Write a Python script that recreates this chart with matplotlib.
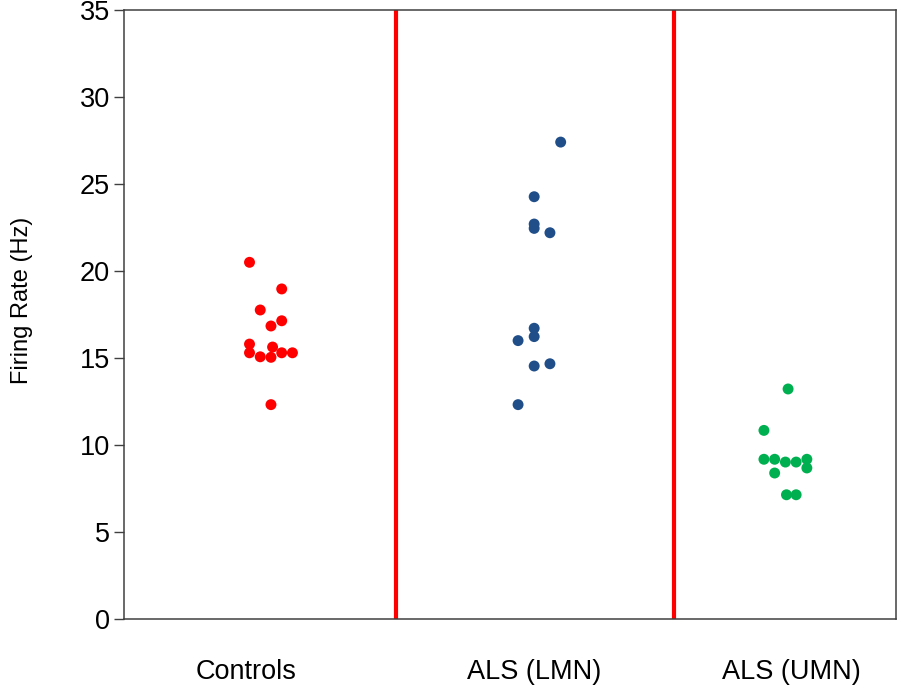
import numpy as np
import matplotlib
matplotlib.use("Agg")
from matplotlib import pyplot as plt

plt.rcParams['font.family'] = ['Liberation Sans', 'DejaVu Sans']

# group labels, centres (x units) and dot colours
groups   = ['Controls', 'ALS (LMN)', 'ALS (UMN)']
label_x  = [1.58, 5.31, 8.64]
centre_x = [1.904, 5.313, 8.567]
colours  = ['#FF0000', '#1F4E89', '#00B050']
dividers = [3.52, 7.12]

# firing rates (Hz) and beeswarm column offsets for each group
controls_hz  = [20.5, 18.97, 17.76, 17.14, 16.84, 15.80, 15.63, 15.30, 15.07, 15.04, 15.30, 15.30, 12.32]
controls_col = [-2, 1, -1, 1, 0, -2, 0.15, -2, -1, 0, 1, 2, 0]
lmn_hz  = [27.41, 24.27, 22.70, 22.45, 22.20, 16.71, 16.23, 16.00, 14.67, 14.54, 12.32]
lmn_col = [2.47, 0, 0, 0, 1.47, 0, 0, -1.5, 1.47, 0, -1.5]
umn_hz  = [13.22, 10.84, 9.18, 9.18, 9.02, 9.02, 9.18, 8.68, 8.39, 7.14, 7.14]
umn_col = [0.25, -2, -2, -1, 0, 1, 2, 2, -1, 0.1, 1]

rates   = [controls_hz, lmn_hz, umn_hz]
columns = [controls_col, lmn_col, umn_col]
step = 0.139   # width of one swarm column

fig = plt.figure(figsize=(8.99, 6.92), dpi=100)
ax = fig.add_axes([0.1379, 0.1055, 0.9967 - 0.1379, 0.9855 - 0.1055])

for hz, col, cx, c in zip(rates, columns, centre_x, colours):
    xs = cx + np.array(col) * step
    ax.scatter(xs, hz, s=62, color=c, edgecolors='none', zorder=3)

for d in dividers:
    ax.axvline(d, color='#FF0000', lw=3, zorder=2)

ax.set_xlim(0, 10)
ax.set_ylim(0, 35)
ax.set_yticks(np.arange(0, 36, 5))
ax.set_xticks(label_x)
ax.set_xticklabels(groups)
ax.tick_params(axis='x', length=0, pad=29, labelsize=19.5)
ax.tick_params(axis='y', length=7, width=1, color='#404040', labelsize=19.5, pad=3)
for s in ax.spines.values():
    s.set_color('#404040')
    s.set_linewidth(1.1)
ax.set_ylabel('Firing Rate (Hz)', fontsize=17)
ax.yaxis.set_label_coords(-0.118, 0.524)

fig.savefig('out.png', dpi=100)
